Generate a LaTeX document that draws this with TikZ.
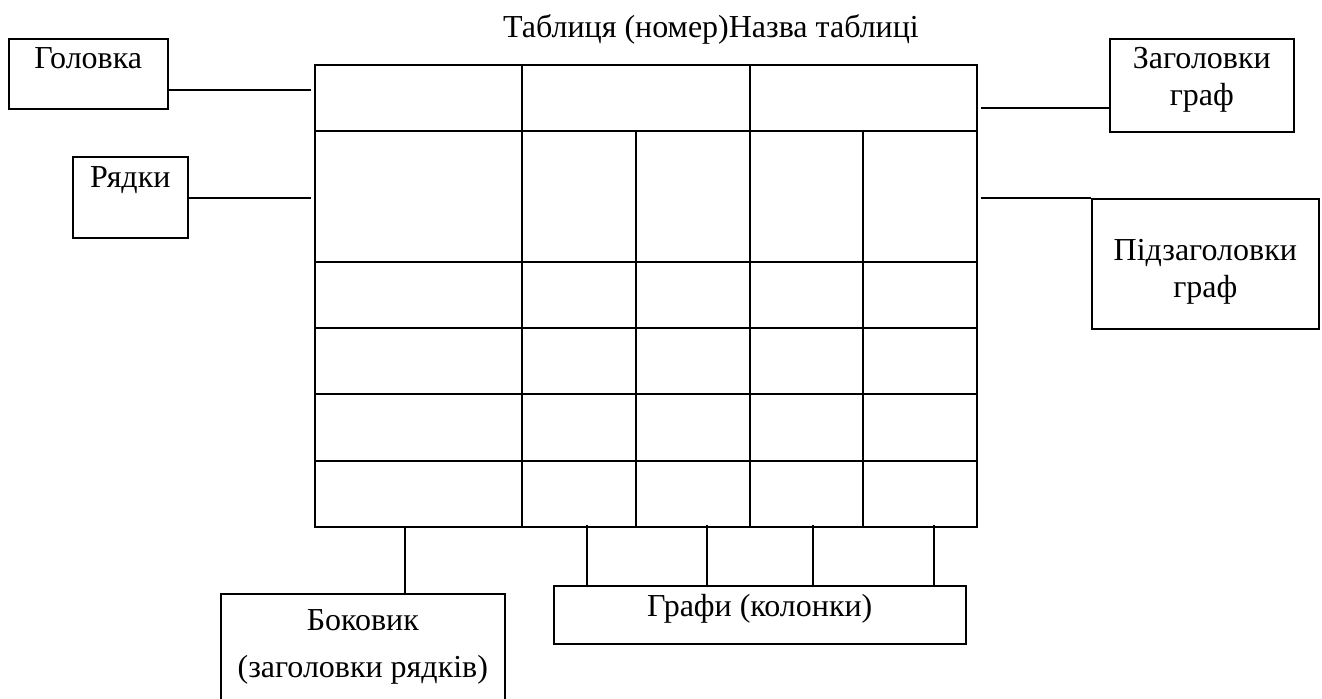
\documentclass[tikz,border=0pt]{standalone}
\usepackage{fontspec}
\setmainfont{Liberation Serif}
\usepackage{tikz}
\usetikzlibrary{positioning,calc}
\tikzset{
    lbox/.style={draw, line width=0.8pt, inner sep=0pt, anchor=north west},
    tabline/.style={line width=1pt},
    lead/.style={line width=0.8pt}
}
\newcommand{\twoline}[3][0pt]{\begin{tabular}[t]{@{}c@{}}#2\\[#1]#3\end{tabular}}

\begin{document}
\begin{tikzpicture}[x=0.5pt, y=-0.5pt, font=\fontsize{16}{18.5}\selectfont]
\useasboundingbox (0,0) rectangle (1322,698);

% title of the table
\node[anchor=base] (title) at (711,37) {Таблиця (номер)Назва таблиці};

% the table itself
\draw[tabline] (315,65) rectangle (977,527);
\foreach \y in {131,262,328,394,461} \draw[tabline] (315,\y) -- (977,\y);
\foreach \x in {522,750} \draw[tabline] (\x,65) -- (\x,527);
\foreach \x in {636,863} \draw[tabline] (\x,131) -- (\x,527);

% labels round the table
\node[lbox, minimum width=79.5pt, text height=15pt, text depth=20pt] (golovka) at (8,38) {Головка};
\node[lbox, minimum width=57.5pt, text height=15.5pt, text depth=25pt] (rjadky) at (72,156) {Рядки};
\node[lbox, minimum width=92pt, text height=15pt, text depth=31.5pt] (zagolovky) at (1109,38) {\twoline{Заголовки}{граф}};
\node[lbox, minimum width=113.5pt, text height=31pt, text depth=34pt] (pidzag) at (1091,198) {\twoline{Підзаголовки}{граф}};
\node[lbox, minimum width=142pt, text height=18.5pt, text depth=36pt] (bokovyk) at (220,593) {\twoline[5pt]{Боковик}{(заголовки рядків)}};
\node[lbox, minimum width=206pt, text height=15.5pt, text depth=13.5pt] (grafy) at (553,585) {Графи (колонки)};

% leader lines
\coordinate (golovkaT) at (311,90);
\draw[lead] (golovkaT -| golovka.east) -- (golovkaT);
\coordinate (rjadkyT) at (311,198);
\draw[lead] (rjadkyT -| rjadky.east) -- (rjadkyT);
\coordinate (zagT) at (981,108);
\draw[lead] (zagT) -- (zagT -| zagolovky.west);
\coordinate (pidzagT) at (981,198);
\draw[lead] (pidzagT) -- (pidzag.north west);
\coordinate (bokovykT) at (405,527);
\draw[lead] (bokovykT) -- (bokovykT |- bokovyk.north);
\foreach \x [count=\i] in {587,707,813,934} {
    \coordinate (graf\i) at (\x,525);
    \draw[lead] (graf\i) -- (graf\i |- grafy.north);
}
\end{tikzpicture}
\end{document}
